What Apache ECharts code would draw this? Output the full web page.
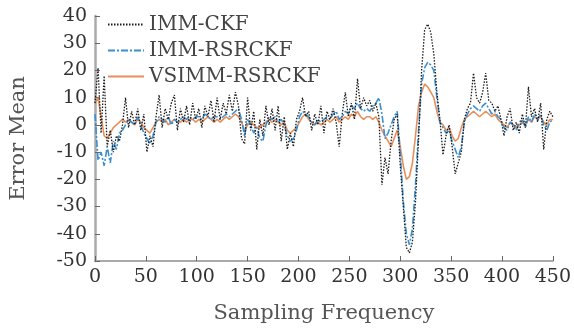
<!DOCTYPE html>
<html>
<head>
<meta charset="utf-8">
<script src="https://cdn.jsdelivr.net/npm/echarts@6/dist/echarts.min.js"></script>
<style>
  html, body { margin: 0; padding: 0; background: #fff; }
  #chart { width: 574px; height: 329px; }
</style>
</head>
<body>
<div id="chart"></div>
<script>
// one point every 3 samples
const step = 3;
const seriesNames = ["IMM-CKF", "IMM-RSRCKF", "VSIMM-RSRCKF"];
const xTicks = [0, 50, 100, 150, 200, 250, 300, 350, 400, 450];
const yTicks = [-50, -40, -30, -20, -10, 0, 10, 20, 30, 40];

const immCkf = [
  8, 21, -3, 18, -8, -2, -10, -4, -6, 0,
  10, -1, 5, 0, 6, -2, 4, -10, -4, -8,
  3, 11, -1, 6, 2, 8, 11, -2, 6, 1,
  7, 0, 8, 2, 6, -1, 7, 3, 9, 1,
  10, 2, 8, 4, 11, 5, 12, 7, -5, -7,
  10, -2, 5, -9, 2, -4, 7, 0, 6, -2,
  7, -6, 3, -9, -3, -8, 2, 5, 10, 3,
  5, -2, 4, 0, 7, -3, 5, 2, 6, 1,
  -8, 4, 12, 3, 8, 2, 17, 6, 10, 7,
  9, 5, 8, 3, -22, -12, -18, -6, 2, 4,
  -15, -30, -45, -47, -43, -28, -5, 20, 35, 37,
  34, 26, 12, 2, -11, -4, 0, -8, -18, -14,
  -10, 2, 6, 8, 19, 10, 8, 12, 19, 9,
  8, 5, 7, 2, -4, 3, 6, -2, 1, -3,
  4, -1, 14, 3, 6, 1, 8, -9, 2, 5,
  3
];
const immRsrckf = [
  4, -13, -10, -15, -8, -14, -6, -9, -3, -2,
  0, 2, 1, 0, 3, 0, -3, -5, -7, -4,
  1, 3, 2, 1, 3, 0, 2, 1, 2, 3,
  2, 3, 2, 3, 3, 2, 4, 3, 2, 3,
  3, 2, 3, 4, 3, 4, 5, 6, 2, -4,
  2, 0, -3, -1, -5, -6, 0, 3, 2, 3,
  1, 2, 0, -4, -6, -5, -2, 3, 5, 4,
  3, 1, 0, 2, 1, 2, 3, 2, 4, 5,
  2, 3, 5, 4, 7, 6, 8, 6, 5, 6,
  5, 7, 8, 10, 4, -5, -3, 0, 3, 5,
  -10, -28, -40, -44, -38, -22, -2, 15, 21, 23,
  22, 20, 10, 1, -1, -3, -2, -6, -9, -12,
  -8, 1, 4, 6, 7, 6, 5, 7, 8, 6,
  4, 5, 3, 2, -1, -2, 1, 0, -2, 1,
  2, -1, 3, 1, 4, 2, 4, 0, -2, 1,
  2
];
const vsimmRsrckf = [
  8, 10, 3, -4, -5, -3, -1, 0, 1, 2,
  1, 2, 1, 0, 2, 1, -1, -2, -3, -1,
  1, 2, 1, 2, 0, 1, 2, 1, 1, 2,
  1, 2, 2, 1, 2, 1, 2, 3, 2, 1,
  2, 1, 2, 3, 2, 3, 4, 3, 1, -2,
  0, 1, 0, -1, -1, 0, 1, 2, 1, 2,
  1, 0, 1, -2, -3, -2, -1, 1, 3, 4,
  2, 1, 0, 1, 0, 1, 2, 1, 2, 3,
  1, 2, 3, 2, 4, 3, 5, 3, 2, 3,
  3, 2, 3, 1, -2, -4, -6, -8, -5, -2,
  -8, -15, -20, -19, -14, -4, 7, 12, 15, 14,
  12, 10, 5, 1, 0, -2, -1, -4, -6, -5,
  -1, 2, 3, 4, 5, 4, 3, 4, 5, 4,
  3, 4, 2, 1, 0, -1, 1, 0, -1, 0,
  1, 0, 2, 1, 3, 2, 3, 1, 0, 2,
  2
];

const pairs = (vals) => vals.map((v, i) => [i * step, v]);
const font = "DejaVu Serif";

const chart = echarts.init(document.getElementById("chart"));
chart.setOption({
  animation: false,
  textStyle: { fontFamily: font },
  grid: { left: 88, right: 21, top: 16, bottom: 56 },
  legend: {
    data: seriesNames,
    orient: "vertical",
    left: 102,
    top: 9,
    itemWidth: 36,
    itemHeight: 12,
    itemGap: 5,
    itemStyle: { opacity: 0 },
    textStyle: { fontFamily: font, fontSize: 20, color: "#444", lineHeight: 21 }
  },
  xAxis: {
    type: "value",
    min: xTicks[0],
    max: xTicks[xTicks.length - 1],
    interval: 50,
    name: "Sampling Frequency",
    nameLocation: "middle",
    nameGap: 42,
    nameTextStyle: { fontFamily: font, fontSize: 21, color: "#555" },
    axisLine: { onZero: false, lineStyle: { color: "#aaa", width: 2 } },
    axisTick: { inside: true, length: 5, lineStyle: { color: "#666" } },
    axisLabel: { fontFamily: font, fontSize: 19, color: "#333", margin: 7 },
    splitLine: { show: false }
  },
  yAxis: {
    type: "value",
    min: yTicks[0],
    max: yTicks[yTicks.length - 1],
    interval: 10,
    name: "Error Mean",
    nameLocation: "middle",
    nameGap: 66,
    nameTextStyle: { fontFamily: font, fontSize: 21, color: "#555" },
    axisLine: { onZero: false, lineStyle: { color: "#aaa", width: 2.5 } },
    axisTick: { inside: true, length: 5, lineStyle: { color: "#666" } },
    axisLabel: { fontFamily: font, fontSize: 19, color: "#333", margin: 8 },
    splitLine: { show: false }
  },
  series: [
    {
      name: seriesNames[0],
      type: "line",
      data: pairs(immCkf),
      symbol: "none",
      z: 4,
      lineStyle: { color: "#1a1a1a", width: 1.3, type: [1.5, 1.5] },
      itemStyle: { color: "#1a1a1a" }
    },
    {
      name: seriesNames[1],
      type: "line",
      data: pairs(immRsrckf),
      symbol: "none",
      z: 3,
      lineStyle: { color: "#3a8fd0", width: 1.6, type: [7, 2, 2, 2] },
      itemStyle: { color: "#3a8fd0" }
    },
    {
      name: seriesNames[2],
      type: "line",
      data: pairs(vsimmRsrckf),
      symbol: "none",
      z: 2,
      lineStyle: { color: "#e27b3e", width: 1.6, opacity: 0.85 },
      itemStyle: { color: "#e27b3e" }
    }
  ]
});
</script>
</body>
</html>
